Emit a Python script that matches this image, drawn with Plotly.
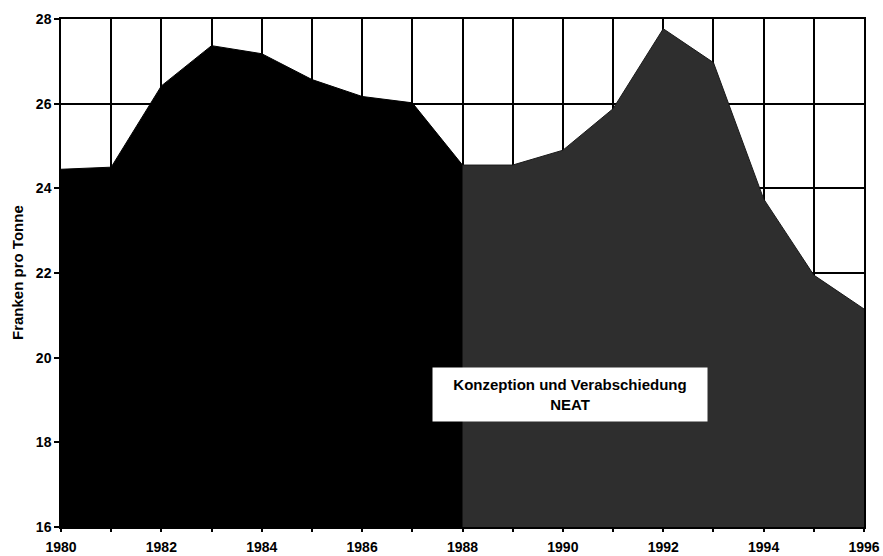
import plotly.graph_objects as go

years_a = [1980, 1981, 1982, 1983, 1984, 1985, 1986, 1987, 1988]
price_a = [24.45, 24.5, 26.42, 27.37, 27.18, 26.57, 26.17, 26.02, 24.55]
years_b = [1988, 1989, 1990, 1991, 1992, 1993, 1994, 1995, 1996]
price_b = [24.55, 24.55, 24.9, 25.88, 27.77, 26.97, 23.75, 21.95, 21.15]
x_ticks = [1980, 1982, 1984, 1986, 1988, 1990, 1992, 1994, 1996]
y_ticks = [16, 18, 20, 22, 24, 26, 28]

font = dict(family="Liberation Sans, Arial, sans-serif", size=14, color="black")

fig = go.Figure()
fig.add_trace(go.Scatter(x=years_a, y=price_a, mode="lines", fill="tozeroy",
                         line=dict(color="black", width=1), fillcolor="black",
                         showlegend=False, hoverinfo="skip"))
fig.add_trace(go.Scatter(x=years_b, y=price_b, mode="lines", fill="tozeroy",
                         line=dict(color="#1a1a1a", width=1), fillcolor="#2e2e2e",
                         showlegend=False, hoverinfo="skip"))

fig.update_layout(
    width=883, height=556,
    margin=dict(l=61, r=19, t=19, b=29),
    paper_bgcolor="white", plot_bgcolor="white",
    font=font,
    xaxis=dict(range=[1980, 1996], tickmode="array", tickvals=x_ticks,
               ticktext=[f"<b>{v}</b>" for v in x_ticks],
               showgrid=True, gridcolor="black", gridwidth=2,
               ticks="outside", ticklen=3, tickcolor="black", tickwidth=1.5,
               ticklabelstandoff=3,
               minor=dict(dtick=1, showgrid=True, gridcolor="black", gridwidth=2,
                          ticks="outside", ticklen=3, tickcolor="black"),
               showline=True, linecolor="black", linewidth=1.5, mirror=True,
               zeroline=False, automargin=False, tickfont=dict(size=14)),
    yaxis=dict(range=[16, 28], tickmode="array", tickvals=y_ticks,
               ticktext=[f"<b>{v}</b>" for v in y_ticks],
               showgrid=True, gridcolor="black", gridwidth=2,
               ticks="outside", ticklen=5, tickcolor="black", tickwidth=1.5,
               showline=True, linecolor="black", linewidth=1.5, mirror=True,
               zeroline=False, automargin=False, tickfont=dict(size=14)),
    annotations=[
        dict(text="<b>Franken pro Tonne</b>", xref="paper", yref="paper", x=0, y=0.5,
             xanchor="center", yanchor="middle", xshift=-44, textangle=-90,
             showarrow=False, font=dict(size=15)),
        dict(text="<b>Konzeption und Verabschiedung<br>NEAT</b>", xref="x", yref="y",
             x=1990.14, y=19.14, xanchor="center", yanchor="middle",
             showarrow=False, bgcolor="white", width=270, height=49, borderpad=2,
             font=dict(size=15)),
    ],
)

fig.write_html("out.html", config={"displayModeBar": False},
               post_script="document.body.style.margin='0px';")
